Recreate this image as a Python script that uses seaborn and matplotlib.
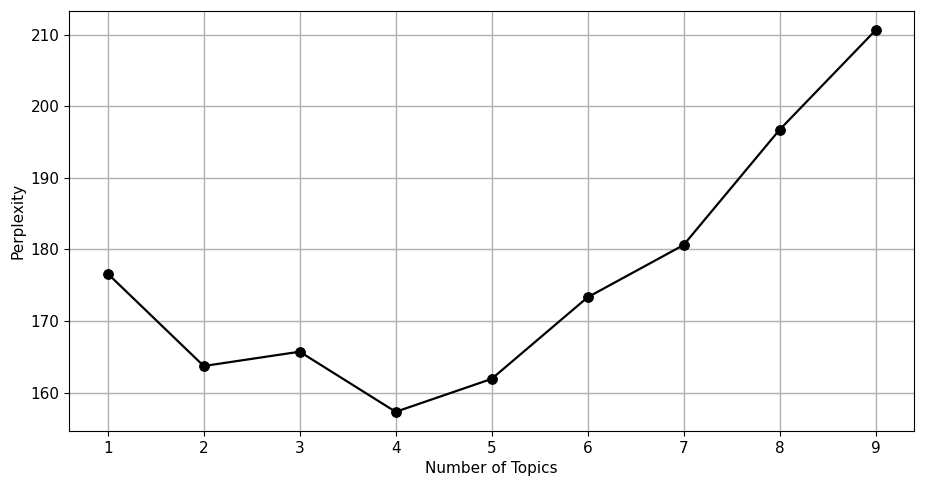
import numpy as np
import pandas as pd
import matplotlib
matplotlib.use("Agg")
import matplotlib.pyplot as plt
import seaborn as sns

# Perplexity per number of topics
num_topics = [1, 2, 3, 4, 5, 6, 7, 8, 9]
perplexity = [176.6, 163.7, 165.7, 157.3, 161.9, 173.3, 180.6, 196.7, 210.6]

df = pd.DataFrame({'topics': num_topics, 'perplexity': perplexity})

fig, ax = plt.subplots(figsize=(9.25, 4.88), dpi=100)
sns.lineplot(data=df, x='topics', y='perplexity', marker='o', color='black',
             markersize=7, markeredgecolor='black', linewidth=1.6, ax=ax)

ax.set_xlabel('Number of Topics', fontsize=11)
ax.set_ylabel('Perplexity', fontsize=11)
ax.set_xticks(num_topics)
ax.set_yticks([160, 170, 180, 190, 200, 210])
ax.tick_params(labelsize=11)
ax.grid(True, color='#b0b0b0', linewidth=1)
ax.set_axisbelow(True)

fig.subplots_adjust(left=0.075, right=0.988, top=0.977, bottom=0.117)
fig.savefig('out.png', dpi=100)
